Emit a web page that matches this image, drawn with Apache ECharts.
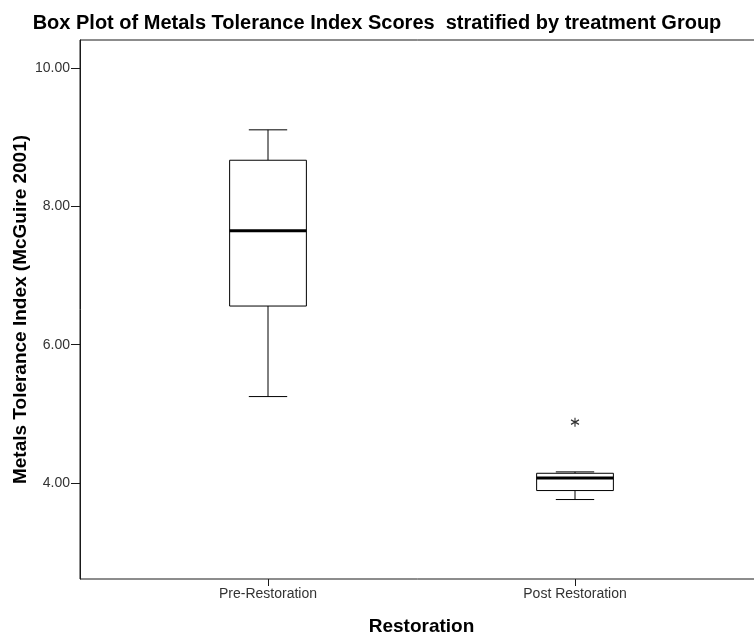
<!DOCTYPE html>
<html>
<head>
<meta charset="utf-8">
<script src="https://cdn.jsdelivr.net/npm/echarts@6/dist/echarts.min.js"></script>
<style>
html,body{margin:0;padding:0;background:#fff;}
#chart{width:754px;height:639px;}
</style>
</head>
<body>
<div id="chart"></div>
<script>
// ---- data ----
const categories = ['Pre-Restoration', 'Post Restoration'];
const lowWhisker = [5.25, 3.76];
const q1Values = [6.56, 3.89];
const medianValues = [7.65, 4.07];
const q3Values = [8.67, 4.14];
const highWhisker = [9.11, 4.16];
const outliers = [[1, 4.88]]; // [category index, value]
const yTicks = [4, 6, 8, 10];

const boxData = categories.map((c, i) => [i, lowWhisker[i], q1Values[i], medianValues[i], q3Values[i], highWhisker[i]]);

const FONT = "'Liberation Sans', Arial, sans-serif";
const Y_MIN = 2.61, Y_MAX = 10.41;

const chart = echarts.init(document.getElementById('chart'), null, {renderer: 'canvas'});

const option = {
  backgroundColor: '#fff',
  animation: false,
  title: {
    text: 'Box Plot of Metals Tolerance Index Scores  stratified by treatment Group',
    left: 'center',
    top: 8,
    textStyle: {fontFamily: FONT, fontSize: 20, fontWeight: 'bold', color: '#000'}
  },
  grid: [
    {left: 80, top: 40, bottom: 60, width: 720, show: true, borderColor: '#1a1a1a', borderWidth: 1, backgroundColor: '#fff', outerBoundsMode: 'none', containLabel: false},
    {left: 114.5, width: 614, top: 40, bottom: 60, outerBoundsMode: 'none', containLabel: false}
  ],
  xAxis: [
    {gridIndex: 0, type: 'value', show: false},
    {
      gridIndex: 1, type: 'category', data: categories,
      axisLine: {show: false},
      axisTick: {show: true, alignWithLabel: true, length: 7, lineStyle: {color: '#1a1a1a', width: 1}},
      axisLabel: {fontFamily: FONT, fontSize: 14, color: '#333', margin: 8},
      splitLine: {show: false},
      name: 'Restoration', nameLocation: 'middle', nameGap: 38, nameMoveOverlap: false,
      nameTextStyle: {fontFamily: FONT, fontSize: 19, fontWeight: 'bold', color: '#000'}
    }
  ],
  yAxis: [
    {
      gridIndex: 0, type: 'value', min: Y_MIN, max: Y_MAX,
      axisLine: {show: true, lineStyle: {color: '#1a1a1a', width: 1}},
      axisTick: {show: true, customValues: yTicks, length: 9, lineStyle: {color: '#1a1a1a', width: 1}},
      axisLabel: {customValues: yTicks, formatter: v => Number(v).toFixed(2), fontFamily: FONT, fontSize: 14, color: '#333', margin: 10},
      splitLine: {show: false},
      name: 'Metals Tolerance Index (McGuire 2001)', nameLocation: 'middle', nameGap: 50, nameMoveOverlap: false,
      nameTextStyle: {fontFamily: FONT, fontSize: 19, fontWeight: 'bold', color: '#000'}
    },
    {
      gridIndex: 1, type: 'value', min: Y_MIN, max: Y_MAX, show: false, splitLine: {show: false}
    }
  ],
  series: [
    {
      type: 'custom',
      xAxisIndex: 1, yAxisIndex: 1,
      data: boxData,
      encode: {x: 0, y: [1, 2, 3, 4, 5]},
      renderItem: function (params, api) {
        const x = api.value(0);
        const pLow = api.coord([x, api.value(1)]);
        const pQ1 = api.coord([x, api.value(2)]);
        const pMed = api.coord([x, api.value(3)]);
        const pQ3 = api.coord([x, api.value(4)]);
        const pHigh = api.coord([x, api.value(5)]);
        const band = api.size([1, 0])[0];
        const bw = band * 0.25;
        const cw = bw * 0.5;
        const cx = pMed[0];
        const st = {stroke: '#000', lineWidth: 1, fill: 'none'};
        return {
          type: 'group',
          children: [
            {type: 'line', shape: {x1: cx, y1: pQ3[1], x2: cx, y2: pHigh[1]}, style: st},
            {type: 'line', shape: {x1: cx, y1: pQ1[1], x2: cx, y2: pLow[1]}, style: st},
            {type: 'line', shape: {x1: cx - cw / 2, y1: pHigh[1], x2: cx + cw / 2, y2: pHigh[1]}, style: st},
            {type: 'line', shape: {x1: cx - cw / 2, y1: pLow[1], x2: cx + cw / 2, y2: pLow[1]}, style: st},
            {type: 'rect', shape: {x: cx - bw / 2, y: pQ3[1], width: bw, height: pQ1[1] - pQ3[1]}, style: {stroke: '#000', lineWidth: 1, fill: '#fff'}},
            {type: 'line', shape: {x1: cx - bw / 2, y1: pMed[1], x2: cx + bw / 2, y2: pMed[1]}, style: {stroke: '#000', lineWidth: 3}}
          ]
        };
      }
    },
    {
      type: 'scatter',
      xAxisIndex: 1, yAxisIndex: 1,
      data: outliers,
      symbol: 'path://M5,0L5,10M0.67,2.5L9.33,7.5M0.67,7.5L9.33,2.5',
      symbolSize: [8, 9],
      itemStyle: {color: 'none', borderColor: '#000', borderWidth: 1.2}
    }
  ]
};

chart.setOption(option);
</script>
</body>
</html>
